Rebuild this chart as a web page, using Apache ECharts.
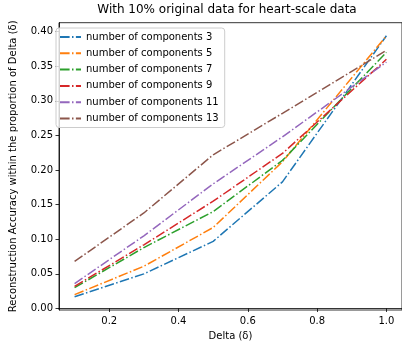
<!DOCTYPE html>
<html>
<head>
<meta charset="utf-8">
<script src="https://cdn.jsdelivr.net/npm/echarts@6/dist/echarts.min.js"></script>
<style>
html,body{margin:0;padding:0;background:#fff;}
#chart{width:402px;height:346px;}
</style>
</head>
<body>
<div id="chart"></div>
<script>
var deltaValues = [0.1, 0.3, 0.5, 0.7, 1.0];
var comp3  = [0.017, 0.050, 0.097, 0.183, 0.394];
var comp5  = [0.020, 0.061, 0.117, 0.212, 0.394];
var comp7  = [0.030, 0.088, 0.140, 0.214, 0.370];
var comp9  = [0.032, 0.092, 0.155, 0.224, 0.360];
var comp11 = [0.036, 0.105, 0.180, 0.248, 0.356];
var comp13 = [0.068, 0.138, 0.222, 0.282, 0.373];
var seriesNames = ['number of components 3','number of components 5','number of components 7','number of components 9','number of components 11','number of components 13'];
var seriesValues = [comp3, comp5, comp7, comp9, comp11, comp13];
var colors = ['#1f77b4','#ff7f0e','#2ca02c','#d62728','#9467bd','#8c564b'];
var xTicks = [0.2, 0.4, 0.6, 0.8, 1.0];
var yTicks = [0.00, 0.05, 0.10, 0.15, 0.20, 0.25, 0.30, 0.35, 0.40];
var titleText = 'With 10% original data for heart-scale data';
var xName = 'Delta (\u03b4)';
var yName = 'Reconstruction Accuracy within the proportion of Delta (\u03b4)';

var font = 'DejaVu Sans';
var chart = echarts.init(document.getElementById('chart'), null, {renderer:'canvas'});
var series = seriesNames.map(function(name, i){
  return {
    name: name,
    type: 'line',
    symbol: 'none',
    data: deltaValues.map(function(x, j){ return [x, seriesValues[i][j]]; }),
    lineStyle: {color: colors[i], width: 1.5, type: [9.6, 2.4, 1.5, 2.4]},
    itemStyle: {color: colors[i]},
    animation: false
  };
});
chart.setOption({
  animation: false,
  title: {
    text: titleText,
    left: 227,
    textAlign: 'center',
    top: 4,
    padding: 0,
    textStyle: {fontFamily: font, fontSize: 12, fontWeight: 'normal', color: '#000'}
  },
  grid: {
    left: 51, top: 22.7, right: 0, bottom: 32.8,
    show: true, borderColor: '#000', borderWidth: 0.8, backgroundColor: 'transparent'
  },
  legend: {
    orient: 'vertical',
    left: 56, top: 28,
    padding: [4, 6, 4, 3],
    itemWidth: 21, itemHeight: 10, itemGap: 6.3,
    itemStyle: {opacity: 0, color: 'transparent', borderWidth: 0},
    backgroundColor: 'rgba(255,255,255,0.8)',
    borderColor: '#cccccc', borderWidth: 1, borderRadius: 3,
    textStyle: {fontFamily: font, fontSize: 10, color: '#000'},
    data: seriesNames
  },
  xAxis: {
    type: 'value', min: 0.055, max: 1.045,
    name: xName, nameLocation: 'middle', nameGap: 21,
    nameTextStyle: {fontFamily: font, fontSize: 10, color: '#000'},
    axisLine: {show: true, lineStyle: {color: '#000', width: 0.8}},
    axisTick: {show: true, length: 3.5, lineStyle: {color: '#000', width: 0.8}, customValues: xTicks},
    axisLabel: {fontFamily: font, fontSize: 10, color: '#000', margin: 6, customValues: xTicks,
      formatter: function(v){ return v.toFixed(1); }},
    splitLine: {show: false}
  },
  yAxis: {
    type: 'value', min: -0.0022, max: 0.4129,
    name: yName, nameLocation: 'middle', nameGap: 41,
    nameTextStyle: {fontFamily: font, fontSize: 10, color: '#000'},
    axisLine: {show: true, lineStyle: {color: '#000', width: 0.8}},
    axisTick: {show: true, length: 3.5, lineStyle: {color: '#000', width: 0.8}, customValues: yTicks},
    axisLabel: {fontFamily: font, fontSize: 10, color: '#000', margin: 6, customValues: yTicks,
      formatter: function(v){ return v.toFixed(2); }},
    splitLine: {show: false}
  },
  series: series
});
</script>
</body>
</html>
